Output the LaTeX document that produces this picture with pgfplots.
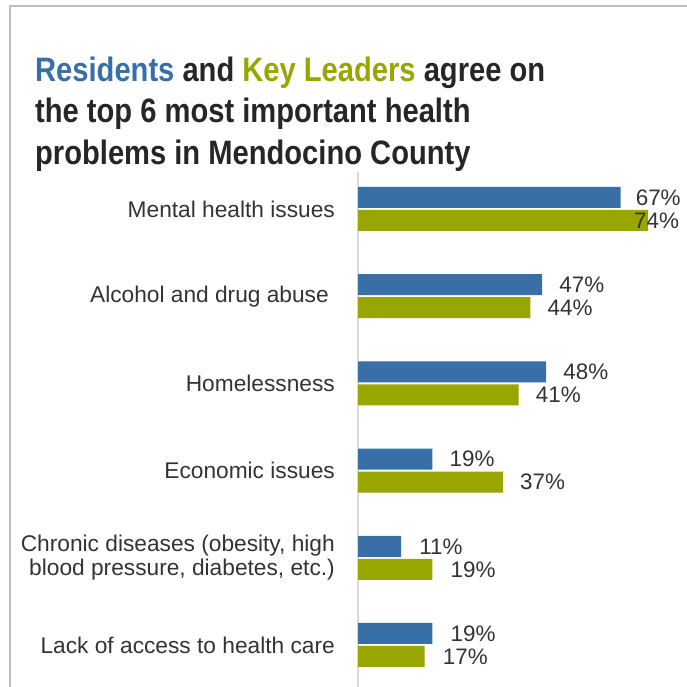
\documentclass[border=0pt]{standalone}
\usepackage{fontspec}
\setmainfont{Liberation Sans}
\newfontfamily\titlefont[FakeStretch=0.86]{Liberation Sans}
\usepackage{pgfplots}
\usepackage{pgfplotstable}
\pgfplotsset{compat=1.18}
\definecolor{resblue}{RGB}{55,111,166}
\definecolor{keygreen}{RGB}{153,166,0}
\definecolor{txt}{RGB}{38,38,38}
\definecolor{lbl}{RGB}{51,51,51}
\definecolor{frame}{RGB}{190,190,190}
\definecolor{axl}{RGB}{217,217,217}

% y: 5 = Mental health issues ... 0 = Lack of access
\pgfplotstableread{
y val shift
5 67 15
4 47 17
3 48 17
2 19 17
1 11 18
0 19 18
}\residents
\pgfplotstableread{
y val shift
5 74 -14
4 44 17
3 41 17
2 37 17
1 19 18
0 17 18
}\leaders

\begin{document}
\begin{tikzpicture}
\useasboundingbox (0,0) rectangle (687bp,687bp);
\draw[frame, line width=2bp] (9.5bp,0) -- (9.5bp,680.5bp) -- (688bp,680.5bp);
\node[anchor=base west, inner sep=0, font=\titlefont\bfseries\fontsize{34}{40}\selectfont, text=txt] at (35bp,605bp)
  {\textcolor{resblue}{Residents} and \textcolor{keygreen}{Key Leaders} agree on};
\node[anchor=base west, inner sep=0, font=\titlefont\bfseries\fontsize{34}{40}\selectfont, text=txt] at (35bp,564.5bp)
  {the top 6 most important health};
\node[anchor=base west, inner sep=0, font=\titlefont\bfseries\fontsize{34}{40}\selectfont, text=txt] at (35bp,522bp)
  {problems in Mendocino County};
\begin{axis}[
  at={(358bp,0bp)}, anchor=south west,
  scale only axis,
  width=321.4bp, height=515bp,
  xmin=0, xmax=82,
  ymin=-0.4817, ymax=5.424,
  axis x line=none,
  axis y line*=left,
  axis line style={-, draw=axl, line width=2bp},
  ytick={0,1,2,3,4,5},
  yticklabels={Lack of access to health care,
    {Chronic diseases (obesity, high\\blood pressure, diabetes, etc.)},
    Economic issues, Homelessness,
    {Alcohol and drug abuse\hspace{6bp}}, Mental health issues},
  yticklabel style={align=right, inner sep=0pt, font=\fontsize{22.8}{24.5}\selectfont, text=lbl},
  yticklabel shift=23bp,
  major tick length=0pt,
  xbar, bar width=21bp,
  clip=false,
  nodes near coords={\pgfmathprintnumber[assume math mode=true]{\pgfplotspointmeta}\%},
  point meta=x,
  visualization depends on={\thisrow{shift}\as\lshift},
  every node near coord/.append style={anchor=west, inner sep=0pt, xshift=\lshift bp, font=\fontsize{22.5}{24}\selectfont, text=lbl},
]
\addplot[fill=resblue, draw=none, bar shift=11.5bp] table[x=val, y=y] {\residents};
\addplot[fill=keygreen, draw=none, bar shift=-11.5bp] table[x=val, y=y] {\leaders};
\end{axis}
\end{tikzpicture}
\end{document}
